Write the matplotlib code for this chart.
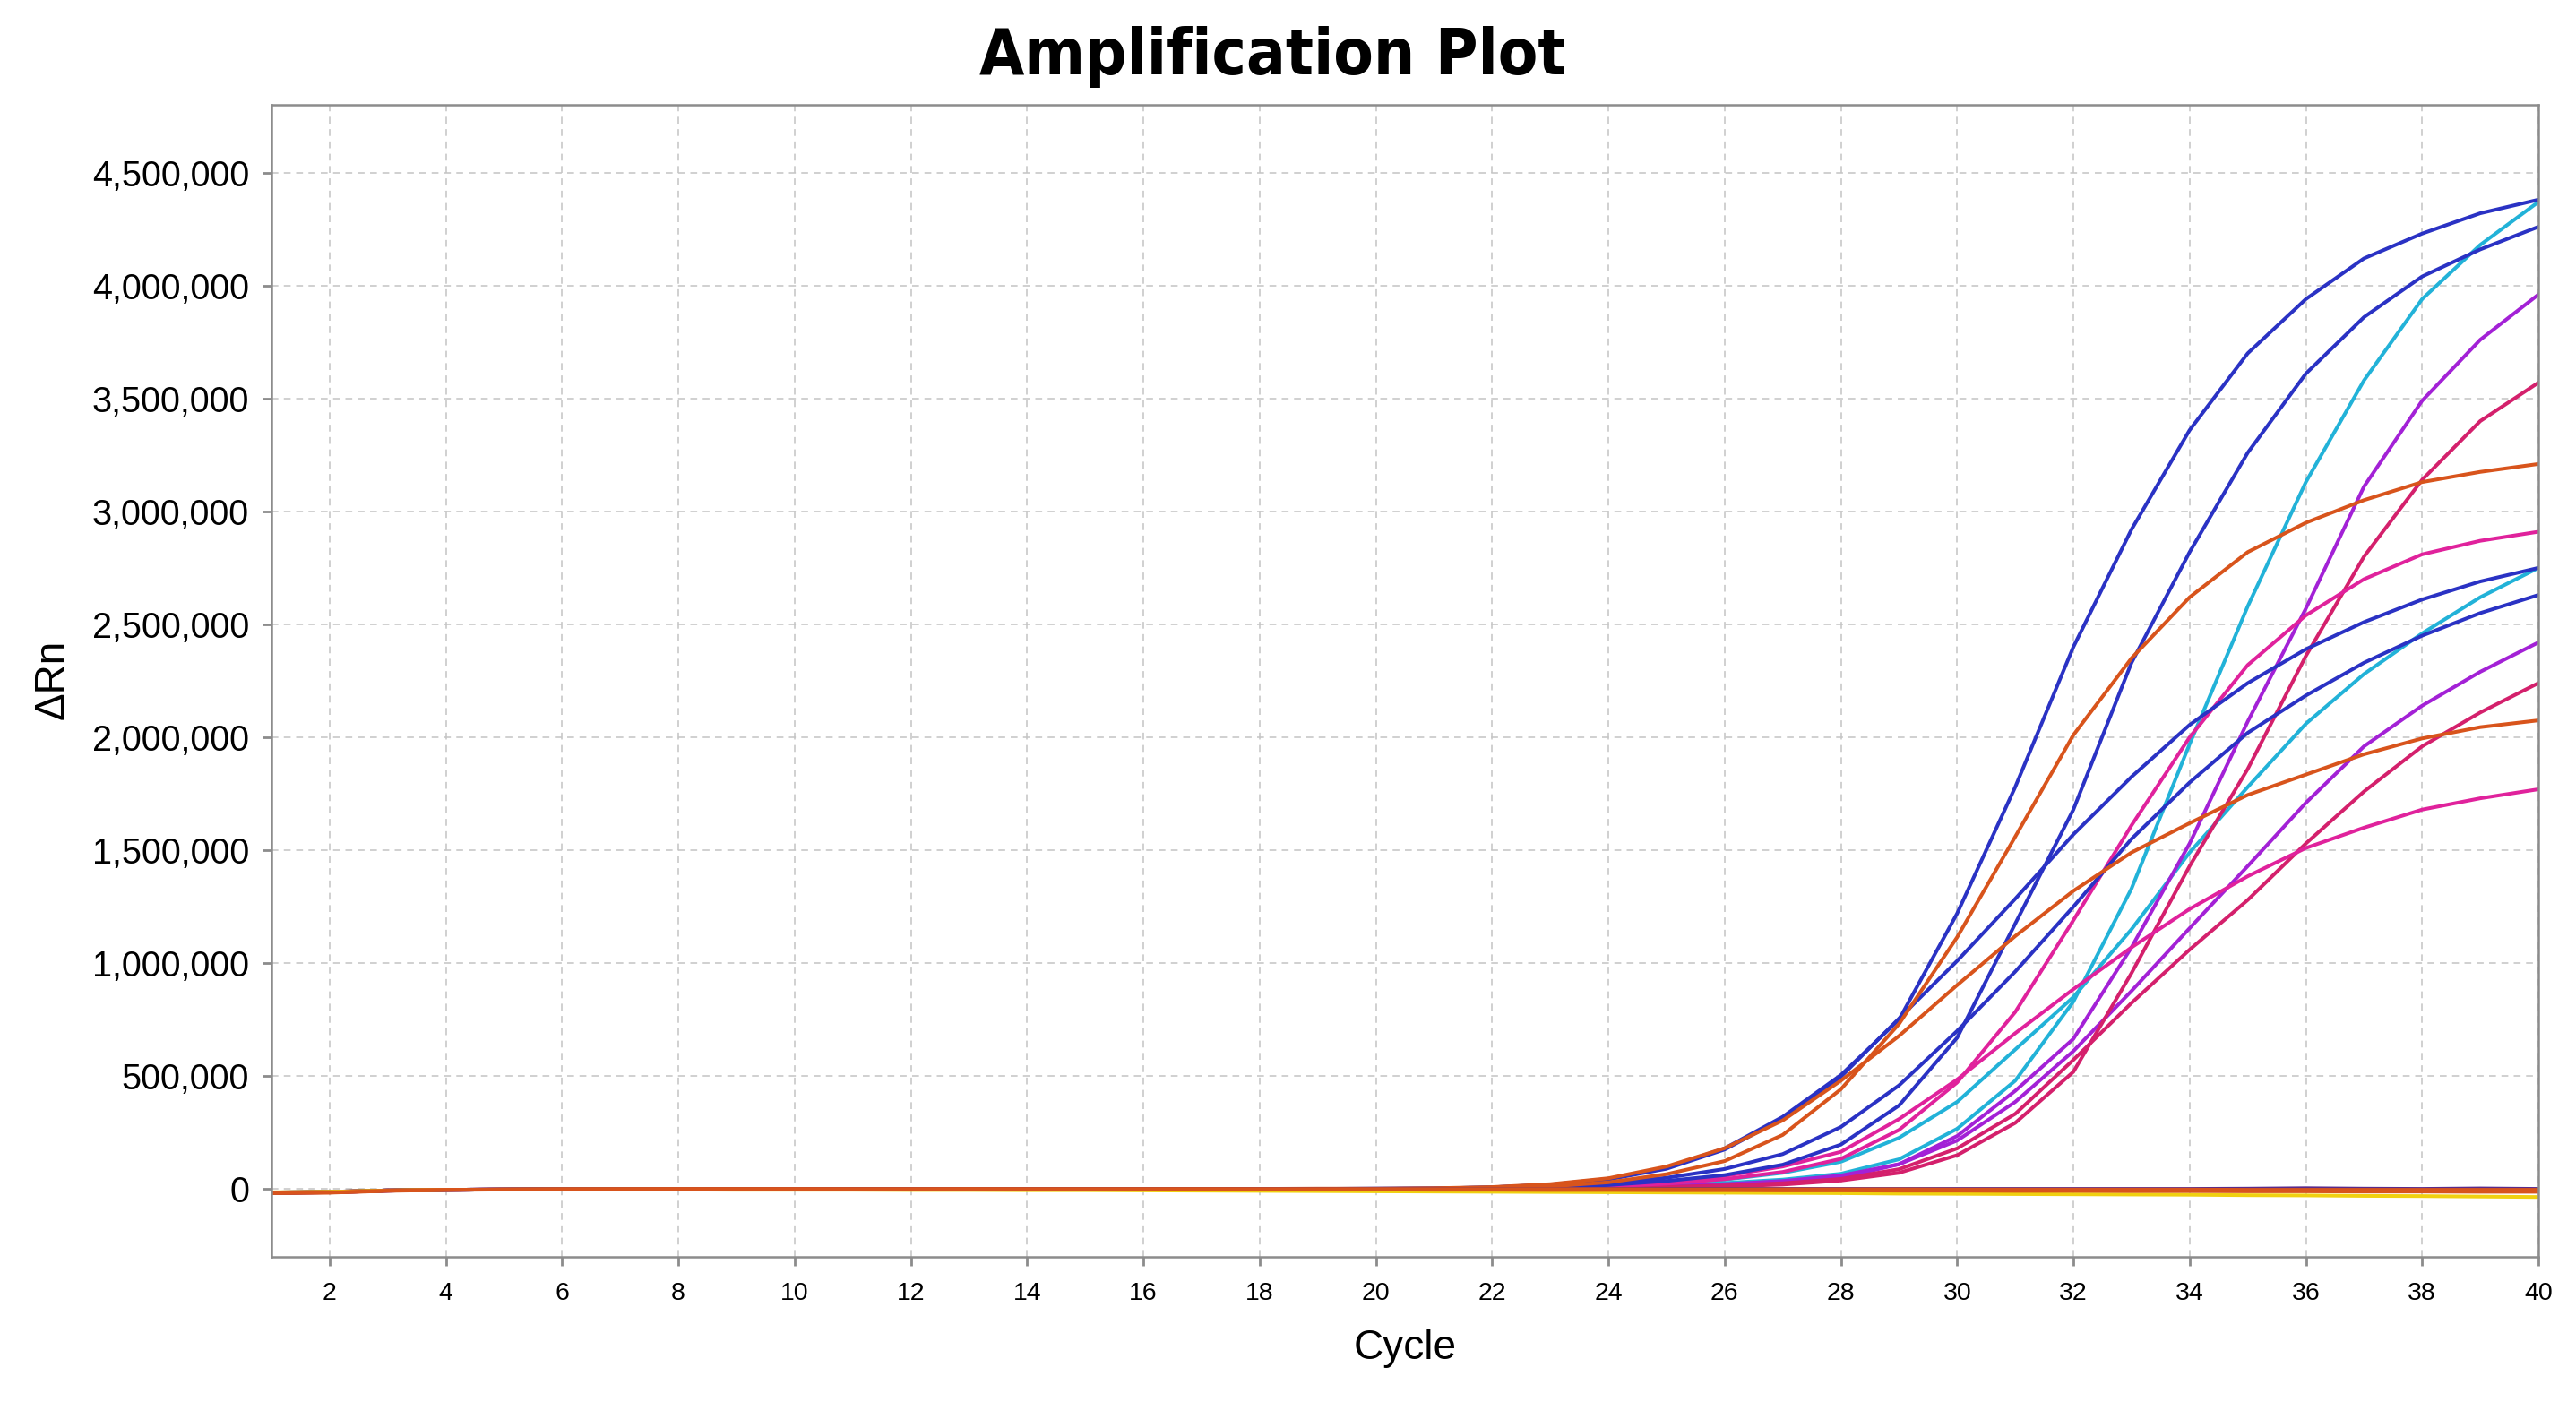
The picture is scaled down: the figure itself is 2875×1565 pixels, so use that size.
import matplotlib
matplotlib.use("Agg")
import matplotlib.pyplot as plt
from matplotlib.ticker import FuncFormatter

# delta Rn values in thousands, one value per cycle (1..40)
cycles = list(range(1, 41))

blue_a = [-16, -13, -6, -3, -2, -1, -1, 0, 0, 0, 0, 0, 0, 0, 0, 0, 0, 1, 1, 2,
          3, 8, 20, 45, 95, 180, 320, 505, 750, 1220, 1780, 2400, 2920, 3360, 3700, 3940, 4120, 4230, 4320, 4380]
blue_b = [-17, -14, -7, -3, -2, -1, -1, -1, 0, 0, 0, 0, 0, 0, 0, 0, 0, 0, 1, 1,
          1, 3, 8, 18, 36, 62, 108, 197, 370, 670, 1175, 1680, 2330, 2820, 3260, 3610, 3860, 4040, 4160, 4260]
blue_c = [-15, -12, -6, -3, -2, -1, 0, 0, 0, 0, 0, 0, 0, 0, 0, 0, 1, 1, 1, 2,
          3, 8, 19, 43, 90, 175, 312, 497, 755, 1010, 1285, 1570, 1825, 2055, 2240, 2390, 2510, 2610, 2690, 2750]
blue_d = [-16, -13, -6, -3, -2, -1, -1, 0, 0, 0, 0, 0, 0, 0, 0, 0, 0, 1, 1, 1,
          2, 5, 12, 26, 50, 89, 155, 275, 459, 700, 963, 1250, 1550, 1800, 2020, 2185, 2330, 2450, 2550, 2630]
cyan_a = [-15, -12, -6, -3, -2, -1, -1, 0, 0, 0, 0, 0, 0, 0, 0, 0, 0, 0, 0, 1,
          1, 2, 4, 8, 15, 27, 42, 68, 132, 267, 480, 830, 1330, 1970, 2580, 3130, 3580, 3940, 4180, 4370]
cyan_b = [-16, -13, -6, -3, -2, -1, -1, 0, 0, 0, 0, 0, 0, 0, 0, 0, 0, 0, 1, 1,
          1, 3, 6, 12, 24, 42, 72, 121, 227, 386, 618, 850, 1150, 1490, 1780, 2060, 2280, 2460, 2620, 2750]
violet_a = [-17, -14, -7, -3, -2, -1, -1, -1, 0, 0, 0, 0, 0, 0, 0, 0, 0, 0, 0, 0,
            1, 1, 3, 6, 11, 18, 28, 50, 110, 235, 435, 665, 1070, 1530, 2070, 2570, 3110, 3490, 3760, 3960]
violet_b = [-16, -13, -6, -3, -2, -1, -1, 0, 0, 0, 0, 0, 0, 0, 0, 0, 0, 0, 0, 1,
            1, 2, 4, 8, 13, 22, 36, 60, 110, 215, 386, 611, 877, 1155, 1430, 1710, 1960, 2140, 2290, 2420]
crimson_a = [-15, -12, -6, -3, -2, -1, -1, 0, 0, 0, 0, 0, 0, 0, 0, 0, 0, 0, 0, 0,
             1, 1, 2, 4, 7, 12, 20, 38, 72, 150, 293, 519, 956, 1430, 1860, 2360, 2800, 3140, 3400, 3570]
crimson_b = [-16, -13, -6, -3, -2, -1, -1, 0, 0, 0, 0, 0, 0, 0, 0, 0, 0, 0, 0, 0,
             1, 2, 3, 6, 10, 16, 26, 45, 88, 180, 333, 572, 824, 1060, 1280, 1530, 1760, 1960, 2110, 2240]
magenta_a = [-16, -13, -6, -3, -2, -1, -1, 0, 0, 0, 0, 0, 0, 0, 0, 0, 0, 0, 1, 1,
             1, 3, 6, 12, 24, 44, 76, 134, 262, 472, 784, 1190, 1610, 2000, 2320, 2540, 2700, 2810, 2870, 2910]
magenta_b = [-17, -14, -7, -3, -2, -1, -1, 0, 0, 0, 0, 0, 0, 0, 0, 0, 0, 0, 1, 1,
             2, 4, 8, 16, 32, 58, 100, 165, 310, 485, 690, 885, 1070, 1240, 1385, 1510, 1600, 1680, 1730, 1770]
orange_a = [-16, -13, -6, -3, -2, -1, -1, 0, 0, 0, 0, 0, 0, 0, 0, 0, 0, 1, 1, 1,
            2, 5, 12, 30, 66, 124, 240, 442, 731, 1115, 1560, 2010, 2350, 2620, 2820, 2950, 3050, 3130, 3175, 3210]
orange_b = [-15, -12, -6, -3, -2, -1, 0, 0, 0, 0, 0, 0, 0, 0, 0, 0, 1, 1, 2, 2,
            4, 9, 22, 48, 100, 181, 304, 480, 678, 903, 1120, 1320, 1490, 1620, 1745, 1835, 1925, 1995, 2045, 2075]

# no-template controls, stay flat
ntc_dark = [-16, -14, -7, -3, -2, -1, 0, 0, 0, 0, 0, 0, 0, 0, 0, 0, 0, 0, 0, 0,
            0, 0, 0, 1, 1, 1, 1, 1, 1, 1, 1, 1, 1, 1, 2, 4, 2, 1, 3, 1]
ntc_yellow = [-14, -12, -6, -3, -2, -2, -2, -2, -3, -3, -3, -4, -4, -5, -5, -6, -7, -8, -9, -10,
              -11, -12, -13, -14, -15, -16, -17, -18, -20, -21, -22, -23, -24, -25, -27, -28, -30, -31, -33, -35]
ntc_orange_a = [-18, -16, -8, -4, -2, -1, -1, 0, 0, 0, -1, -1, 0, -1, -1, -1, -1, -2, -2, -2,
                -3, -3, -4, -4, -5, -5, -6, -6, -7, -7, -8, -8, -9, -9, -10, -10, -11, -11, -12, -12]
ntc_orange_b = [-17, -15, -7, -3, -2, -1, 0, 0, 0, 0, 0, 0, 0, 0, 0, 0, 0, 0, 0, 0,
                0, 0, 0, 0, -1, -1, -1, -1, -1, -2, -2, -2, -2, -2, -3, -3, -3, -3, -3, -3]

BLUE = "#2A32C4"
CYAN = "#22B2D8"
VIOLET = "#A321D6"
CRIMSON = "#D4206C"
MAGENTA = "#E0229C"
ORANGE = "#D8541C"
YELLOW = "#F0D010"

curves = [
    (cyan_a, CYAN), (cyan_b, CYAN),
    (violet_a, VIOLET), (violet_b, VIOLET),
    (crimson_a, CRIMSON), (crimson_b, CRIMSON),
    (magenta_a, MAGENTA), (magenta_b, MAGENTA),
    (blue_a, BLUE), (blue_b, BLUE), (blue_c, BLUE), (blue_d, BLUE),
    (orange_a, ORANGE), (orange_b, ORANGE),
    (ntc_dark, "#5A2A8A"), (ntc_yellow, YELLOW),
    (ntc_orange_a, ORANGE), (ntc_orange_b, ORANGE),
]

W, H = 2875, 1565
fig = plt.figure(figsize=(W / 100, H / 100), dpi=100)
ax = fig.add_axes([303 / W, 1 - 1403 / H, 2530 / W, 1286 / H])

for vals, col in curves:
    ax.plot(cycles, [v * 1000 for v in vals], color=col, lw=2.9, solid_joinstyle="round")

ax.set_xlim(1, 40)
ax.set_ylim(-300000, 4800000)
ax.set_xticks(range(2, 41, 2))
ax.set_yticks(range(0, 4500001, 500000))
ax.yaxis.set_major_formatter(FuncFormatter(lambda v, p: "{:,.0f}".format(v)))

ax.grid(True, color="#C4C4C4", lw=1.1, ls=(0, (5, 4)))
ax.set_axisbelow(True)
for sp in ax.spines.values():
    sp.set_color("#8C8C8C")
    sp.set_linewidth(1.8)

ax.tick_params(axis="both", direction="out", color="#8C8C8C", width=2, length=7)
ax.tick_params(axis="y", labelsize=28.5, pad=11)
ax.tick_params(axis="x", labelsize=20.5, pad=13)
for lab in ax.get_xticklabels() + ax.get_yticklabels():
    lab.set_family("Liberation Sans")

fig.text(1420 / W, 1 - 83 / H, "Amplification Plot", ha="center", va="baseline",
         fontsize=52, fontweight="bold", family="DejaVu Sans", fontstretch="condensed")
fig.text(1568 / W, 1 - 1505 / H, "Cycle", ha="center", va="center",
         fontsize=33, family="Liberation Sans")
fig.text(59 / W, 1 - 758 / H, "\u0394Rn", ha="center", va="center", rotation=90,
         fontsize=33, family="Liberation Sans")

fig.savefig("out.png", dpi=100)
